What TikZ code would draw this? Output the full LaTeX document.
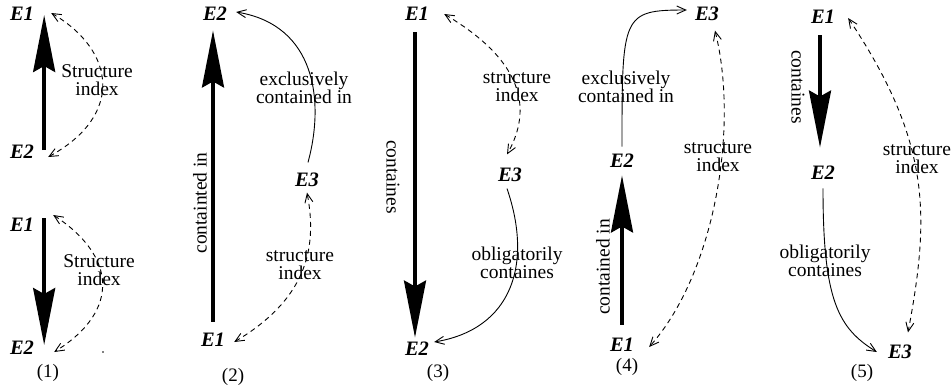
\documentclass[tikz,border=0pt]{standalone}
\usepackage{fontspec}
\setmainfont{Liberation Serif}
\usetikzlibrary{arrows.meta,calc}
\begin{document}
\begin{tikzpicture}[x=1pt,y=-1pt,
  ent/.style={inner sep=0pt,font=\fontsize{20.5}{18}\selectfont\bfseries\itshape},
  lbl/.style={inner sep=0pt,align=center,font=\fontsize{19.5}{18.5}\selectfont},
  panelcap/.style={inner sep=0pt,font=\fontsize{19}{18}\selectfont},
  bigarrow/.style={line width=3.5pt,-{Stealth[length=57pt,width=22pt,inset=6pt]}},
  thin/.style={line width=0.9pt,-{Straight Barb[length=9pt,width=8pt]}},
  dashlink/.style={line width=0.9pt,dash pattern=on 5pt off 4pt,{Straight Barb[length=9pt,width=8pt]}-{Straight Barb[length=9pt,width=8pt]}}
]
\useasboundingbox (0,0) rectangle (951,389);

% ---------- panel (1), top ----------
\node[ent] (E1a) at (22,14) {E1};
\node[ent] (E2a) at (22,152) {E2};
\draw[bigarrow] ($(E2a.east)+(10,-2)$) -- ($(E1a.east)+(10,1)$);
\draw[dashlink] ($(E2a.east)+(14,5)$) .. controls (125,115) and (115,50) .. ($(E1a.east)+(17,-1)$);
\node[lbl] (t1a) at (97,80) {Structure\\index};

% ---------- panel (1), bottom ----------
\node[ent] (E1b) at (22,225) {E1};
\node[ent] (E2b) at (22,348) {E2};
\draw[bigarrow] ($(E1b.east)+(10,-7)$) -- ($(E2b.east)+(10,-3)$);
\draw[dashlink] ($(E1b.east)+(19,-10)$) .. controls (115,255) and (122,310) .. ($(E2b.east)+(20,4)$);
\node[lbl] (t1b) at (99,270) {Structure\\index};
\fill (103,352) circle (0.8);
\node[panelcap] (c1) at (48,373) {(1)};

% ---------- panel (2) ----------
\node[ent] (E2c) at (215,14) {E2};
\node[ent] (E1c) at (213,340) {E1};
\node[ent] (E3c) at (307,180) {E3};
\draw[bigarrow] ($(E1c.north)+(0,-11.5)$) -- ($(E2c.south)+(-2,9.5)$);
\node[lbl,rotate=90] (r2) at (200,203) {containted in};
\draw[thin] ($(E3c.north)+(1,-10.5)$) .. controls (325,100) and (315,25) .. ($(E2c.east)+(9,-2)$);
\node[lbl] (t2a) at (304,88) {exclusively\\contained in};
\draw[dashlink] ($(E1c.east)+(9,2)$) .. controls (305,300) and (318,250) .. ($(E3c.south)+(0,5.5)$);
\node[lbl] (t2b) at (300,265) {structure\\index};
\node[panelcap] (c2) at (233,377) {(2)};

% ---------- panel (3) ----------
\node[ent] (E1d) at (417,14) {E1};
\node[ent] (E2d) at (417,349) {E2};
\node[ent] (E3d) at (510,175) {E3};
\draw[bigarrow] ($(E1d.south)+(-2,11.5)$) -- ($(E2d.north)+(-2,-4.5)$);
\node[lbl,rotate=-90] (r3) at (393,177) {containes};
\draw[dashlink] ($(E1d.east)+(15,0)$) .. controls (525,62) and (532,110) .. ($(E3d.north)+(-3,-13.5)$);
\node[lbl] (t3a) at (517,87) {structure\\index};
\draw[thin] ($(E3d.south)+(-3,6.5)$) .. controls (533,264) and (512,329) .. ($(E2d.east)+(5,-7)$);
\node[lbl] (t3b) at (517,263) {obligatorily\\containes};
\node[panelcap] (c3) at (438,373) {(3)};

% ---------- panel (4) ----------
\node[ent] (E3e) at (707,14) {E3};
\node[ent] (E2e) at (622,161) {E2};
\node[ent] (E1e) at (622,345) {E1};
\draw[bigarrow] ($(E1e.north)+(0,-13.5)$) -- ($(E2e.south)+(0,7.5)$);
\node[lbl,rotate=90] (r4) at (603,267) {contained in};
\draw[thin] ($(E2e.north)+(0,-7.5)$) .. controls (622,15) and (622,10) .. ($(E3e.west)+(-8,-4)$);
\node[lbl] (t4a) at (626,87) {exclusively\\contained in};
\draw[dashlink] ($(E3e.south)+(8,9.5)$) .. controls (739,127) and (715,273) .. ($(E1e.east)+(15,2)$);
\node[lbl] (t4b) at (718,157) {structure\\index};
\node[panelcap] (c4) at (627,367) {(4)};

% ---------- panel (5) ----------
\node[ent] (E1f) at (823,17) {E1};
\node[ent] (E2f) at (823,173) {E2};
\node[ent] (E3f) at (900,352) {E3};
\draw[bigarrow] ($(E1f.south)+(-3,11.5)$) -- ($(E2f.north)+(-3,-18.5)$);
\node[lbl,rotate=-90] (r5) at (798,87) {containes};
\draw[thin] ($(E2f.south)+(0,8.5)$) .. controls (823,300) and (838,328) .. ($(E3f.west)+(-11,0)$);
\node[lbl] (t5a) at (825,261) {obligatorily\\containes};
\draw[dashlink] ($(E1f.east)+(13,1)$) .. controls (931,142) and (930,215) .. ($(E3f.north)+(8,-12.5)$);
\node[lbl] (t5b) at (917,159) {structure\\index};
\node[panelcap] (c5) at (862,373) {(5)};
\end{tikzpicture}
\end{document}
